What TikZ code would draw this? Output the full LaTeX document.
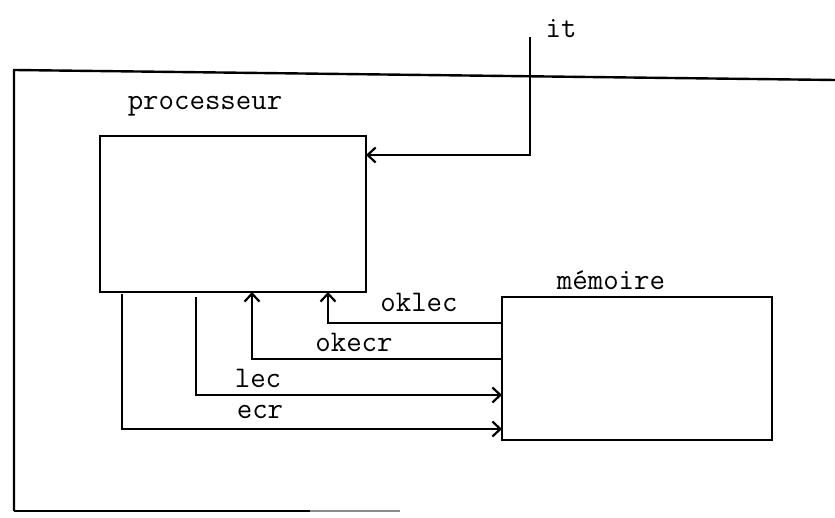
\documentclass[tikz,border=0pt]{standalone}
\usetikzlibrary{arrows.meta,calc}
\begin{document}
\begin{tikzpicture}[x=1pt,y=-1pt,
  frame/.style={line width=2.4pt},
  box/.style={draw,line width=2pt,outer sep=0pt,inner sep=0pt},
  arr/.style={line width=1.7pt,-{Straight Barb[length=8pt,width=15pt,line width=2.2pt]}},
  lbl/.style={font=\fontsize{30}{36}\selectfont\ttfamily,inner sep=0pt}]
\useasboundingbox (0,0) rectangle (835,518);
% outer frame
\draw[frame] (14,511) -- (14,70) -- (835,80);
\draw[frame] (14,511) -- (310,511);
\draw[frame,black!45] (310,511) -- (400,511);
% boxes
\node[box,minimum width=266pt,minimum height=156pt] (proc) at (233,214) {};
\node[box,minimum width=270pt,minimum height=143pt] (mem) at (637,368.5) {};
% labels
\node[lbl] (lproc) at (205,106) {processeur};
\node[lbl] (lmem) at (611,280) {mémoire};
\node[lbl] (lit) at (561,29) {it};
\node[lbl] (loklec) at (419,302) {oklec};
\node[lbl] (lokecr) at (354,342) {okecr};
\node[lbl] (llec) at (258,378) {lec};
\node[lbl] (lecr) at (260,412) {ecr};
% it
\coordinate (itTop) at (530,37);
\coordinate (itBend) at (530,155);
\draw[arr] (itTop) -- (itBend) -- (proc.east |- itBend);
% oklec
\coordinate (okl) at (328,323);
\draw[arr] (mem.west |- okl) -- (okl) -- (okl |- proc.south);
% okecr
\coordinate (oke) at (252,359);
\draw[arr] (mem.west |- oke) -- (oke) -- (oke |- proc.south);
% lec
\coordinate (lecB) at (196,395);
\draw[arr,shorten <=5pt] (proc.south -| lecB) -- (lecB) -- (mem.west |- lecB);
% ecr
\coordinate (ecrB) at (122,429);
\draw[arr,shorten <=2pt] (proc.south -| ecrB) -- (ecrB) -- (mem.west |- ecrB);
\end{tikzpicture}
\end{document}
